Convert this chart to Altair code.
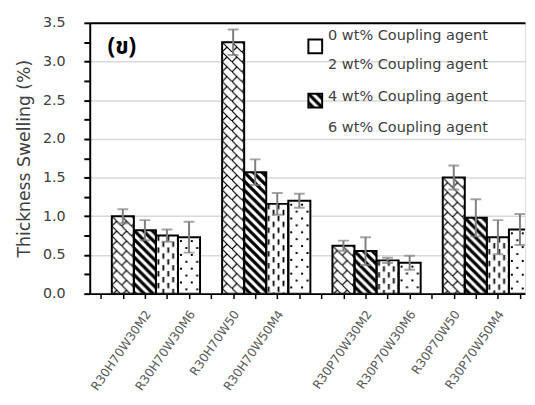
import json
import base64
import altair as alt
import pandas as pd

# ---------------- data ----------------
series_labels = ["0 wt% Coupling agent", "2 wt% Coupling agent",
                 "4 wt% Coupling agent", "6 wt% Coupling agent"]
group_index = [0, 1, 2, 3]
values_0 = [1.00, 3.25, 0.62, 1.50]
values_2 = [0.82, 1.57, 0.55, 0.98]
values_4 = [0.75, 1.16, 0.43, 0.73]
values_6 = [0.73, 1.20, 0.40, 0.83]
err_0 = [0.09, 0.165, 0.065, 0.155]
err_2 = [0.13, 0.165, 0.18, 0.24]
err_4 = [0.08, 0.14, 0.035, 0.22]
err_6 = [0.20, 0.09, 0.09, 0.20]
tick_labels = ["R30H70W30M2", "R30H70W30M6", "R30H70W50", "R30H70W50M4",
               "R30P70W30M2", "R30P70W30M6", "R30P70W50", "R30P70W50M4"]
tick_label_slots = [2, 4, 6, 8, 12, 14, 16, 18]
panel_label = "(ข)"

# ---------------- patterns (styles) ----------------
def pattern_url(w, h, body):
    s = ('<svg xmlns="http://www.w3.org/2000/svg" width="100%" height="100%">'
         f'<defs><pattern id="p" patternUnits="userSpaceOnUse" width="{w}" height="{h}">{body}</pattern></defs>'
         '<rect width="100%" height="100%" fill="#ffffff"/>'
         '<rect width="100%" height="100%" fill="url(#p)"/></svg>')
    return "data:image/svg+xml;base64," + base64.b64encode(s.encode()).decode()

pat_zigzag = pattern_url(10, 10,
    '<path d="M-1,-1 L11,11 M0,10 L5,5" fill="none" stroke="#000" stroke-width="1.2"/>')
pat_stripes = pattern_url(9, 9,
    '<path d="M-2,7 l4,4 M0,0 l9,9 M7,-2 l4,4" fill="none" stroke="#000" stroke-width="3.3"/>')
pat_dash = pattern_url(10, 12,
    '<path d="M2.5,0 V5.5 M7.5,6 V11.5" fill="none" stroke="#000" stroke-width="1.8"/>')
pat_dots = pattern_url(11, 14,
    '<rect x="2" y="3" width="2" height="2" fill="#000"/><rect x="7.5" y="10" width="2" height="2" fill="#000"/>')
patterns = [pat_zigzag, pat_stripes, pat_dash, pat_dots]

# ---------------- table ----------------
all_vals = [values_0, values_2, values_4, values_6]
all_errs = [err_0, err_2, err_4, err_6]
rows = []
for s, (vals, errs) in enumerate(zip(all_vals, all_errs)):
    for g, v, e in zip(group_index, vals, errs):
        slot = 1 + 5 * g + s
        rows.append({"series": series_labels[s], "x0": slot, "x1": slot + 1,
                     "xc": slot + 0.5, "value": v, "base": 0.0,
                     "lo": v - e, "hi": v + e, "url": patterns[s]})
df = pd.DataFrame(rows)

n_slots = 20
slot_names = [""] * n_slots
for name, k in zip(tick_labels, tick_label_slots):
    slot_names[k] = name
label_expr = json.dumps(slot_names).replace('"', "'") + "[floor(datum.value)]"

FONT = "DejaVu Sans"
xscale = alt.Scale(domain=[0, 19.73], nice=False, zero=False)
yscale = alt.Scale(domain=[0, 3.5], nice=False)

xaxis = alt.Axis(values=[k + 0.5 for k in range(n_slots)], labelExpr=label_expr,
                 labelAngle=-55, labelAlign="right", labelBaseline="middle",
                 labelFontSize=12.4, labelColor="#595959", labelFont=FONT,
                 labelPadding=13, labelOffset=3,
                 tickSize=5, tickColor="black", tickWidth=1.5,
                 domainColor="black", domainWidth=2, grid=False, title=None,
                 labelOverlap=False, labelFlush=False, labelBound=False)
yaxis = alt.Axis(values=[i * 0.25 for i in range(15)],
                 labelExpr="(datum.value*4)%2==0 ? format(datum.value,'.1f') : ''",
                 labelFontSize=14.5, labelColor="#404040", labelFont=FONT,
                 labelPadding=19, tickSize=6, tickColor="black", tickWidth=2,
                 domainColor="black", domainWidth=2, grid=True,
                 gridColor={"condition": {"test": "datum.value >= 3.5", "value": "#000000"}, "value": "#d9d9d9"},
                 gridWidth={"condition": {"test": "datum.value >= 3.5", "value": 2}, "value": 1.5},
                 gridOpacity={"condition": {"test": "(datum.value*4)%2==1", "value": 0}, "value": 1},
                 title="Thickness Swelling (%)", titleFontSize=17.5, titleFontWeight="normal",
                 titleColor="#404040", titleFont=FONT, titlePadding=9)

base = alt.Chart(df)
X0 = alt.X("x0:Q", scale=xscale, axis=xaxis)
XC = alt.X("xc:Q", scale=xscale, axis=xaxis)
YV = alt.Y("value:Q", scale=yscale, axis=yaxis)

imgs = base.mark_image(aspect=False, clip=True).encode(
    x=X0, x2="x1:Q", y=YV, y2="base:Q", url="url:N")
outlines = base.mark_rect(fill="transparent", stroke="black", strokeWidth=2, clip=True).encode(
    x=X0, x2="x1:Q", y=YV, y2="base:Q")
ERR = "#7f7f7f"
err_rule = base.mark_rule(color=ERR, strokeWidth=2, clip=True).encode(
    x=XC, y=alt.Y("lo:Q", scale=yscale, axis=yaxis), y2="hi:Q")
cap_lo = base.mark_tick(orient="horizontal", size=11, thickness=2, color=ERR, clip=True).encode(
    x=XC, y=alt.Y("lo:Q", scale=yscale, axis=yaxis))
cap_hi = base.mark_tick(orient="horizontal", size=11, thickness=2, color=ERR, clip=True).encode(
    x=XC, y=alt.Y("hi:Q", scale=yscale, axis=yaxis))

one = pd.DataFrame({"k": [0]})
legend_layers = []
legend_y = [13, 43, 75, 107]
for lab, ly in zip(series_labels, legend_y):
    legend_layers.append(alt.Chart(one).mark_text(
        align="left", baseline="middle", font=FONT, fontSize=14.7, color="#404040").encode(
        x=alt.value(242), y=alt.value(ly), text=alt.value(lab)))
box1 = alt.Chart(one).mark_rect(fill="white", stroke="black", strokeWidth=2).encode(
    x=alt.value(222), x2=alt.value(236), y=alt.value(17), y2=alt.value(31))
box2_img = alt.Chart(one).mark_image(aspect=False).encode(
    x=alt.value(222), x2=alt.value(236), y=alt.value(72), y2=alt.value(86),
    url=alt.value(pat_stripes))
box2 = alt.Chart(one).mark_rect(fill="transparent", stroke="black", strokeWidth=2).encode(
    x=alt.value(222), x2=alt.value(236), y=alt.value(72), y2=alt.value(86))
panel = alt.Chart(one).mark_text(
    align="left", baseline="middle", font="Noto Sans Thai, Noto Sans Thai UI, Loma, Garuda, DejaVu Sans, sans-serif",
    fontSize=23, fontWeight="bold", color="black").encode(
    x=alt.value(18), y=alt.value(25), text=alt.value(panel_label))

chart = alt.layer(imgs, outlines, err_rule, cap_lo, cap_hi, *legend_layers,
                  box1, box2_img, box2, panel).properties(
    width=442, height=275,
    padding={"left": 83, "top": 12, "right": 2, "bottom": 108},
    autosize=alt.AutoSizeParams(type="none"),
).configure_view(stroke=None).configure(font=FONT, background="white")

chart.save("out.html", embed_options={"renderer": "svg", "actions": False})
